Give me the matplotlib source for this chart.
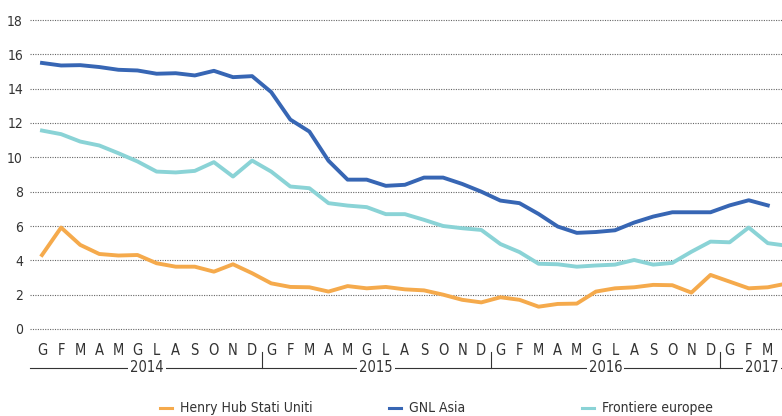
import matplotlib
matplotlib.use("Agg")
import matplotlib.pyplot as plt
from matplotlib.transforms import blended_transform_factory
from matplotlib.lines import Line2D

# ----------------------------
# Data (prezzi del gas, $/MMBtu)
# ----------------------------
months = ["G", "F", "M", "A", "M", "G", "L", "A", "S", "O", "N", "D"]
years = ["2014", "2015", "2016", "2017"]

gnl_asia = [15.5, 15.35, 15.37, 15.26, 15.1, 15.06, 14.87, 14.9, 14.77, 15.04, 14.67, 14.73,
            13.8, 12.2, 11.5, 9.8, 8.7, 8.7, 8.34, 8.4, 8.82, 8.82, 8.45, 8.0,
            7.48, 7.33, 6.7, 5.97, 5.6, 5.65, 5.75, 6.2, 6.55, 6.8, 6.8, 6.8,
            7.2, 7.5, 7.2]

frontiere = [11.56, 11.35, 10.92, 10.69, 10.24, 9.76, 9.17, 9.12, 9.21, 9.72, 8.88, 9.81,
             9.17, 8.3, 8.2, 7.33, 7.19, 7.1, 6.69, 6.69, 6.36, 6.0, 5.87, 5.77,
             4.95, 4.48, 3.8, 3.77, 3.63, 3.7, 3.75, 4.02, 3.75, 3.85, 4.5, 5.09,
             5.05, 5.91, 5.0, 4.85]

henry_hub = [4.31, 5.91, 4.9, 4.37, 4.28, 4.31, 3.83, 3.63, 3.63, 3.34, 3.77, 3.25,
             2.66, 2.45, 2.43, 2.18, 2.5, 2.37, 2.45, 2.31, 2.25, 2.0, 1.7, 1.55,
             1.85, 1.7, 1.3, 1.46, 1.48, 2.18, 2.37, 2.43, 2.57, 2.55, 2.12, 3.15,
             2.76, 2.37, 2.43, 2.65]

y_ticks = [0, 2, 4, 6, 8, 10, 12, 14, 16, 18]

ORANGE = "#f5aa4c"
BLUE = "#3766b4"
CYAN = "#8ad3d6"
TXT = "#333333"

plt.rcParams["font.family"] = ["DejaVu Sans"]
plt.rcParams["font.stretch"] = "condensed"

fig = plt.figure(figsize=(7.82, 4.16), dpi=100)
ax = fig.add_axes([30 / 782, 1 - 329 / 416, 752 / 782, 309 / 416])

# gridlines
for v in y_ticks:
    ax.axhline(v, color="#666666", lw=0.8, ls=(0, (1, 1.2)), clip_on=False, zorder=1)

ax.plot(range(len(henry_hub)), henry_hub, color=ORANGE, lw=2.8, zorder=3)
ax.plot(range(len(frontiere)), frontiere, color=CYAN, lw=2.8, zorder=3)
ax.plot(range(len(gnl_asia)), gnl_asia, color=BLUE, lw=2.8, zorder=4)

ax.set_ylim(0, 18)
ax.set_xlim(-12 / 19.1, 740 / 19.1)
ax.set_yticks(y_ticks)
ax.set_yticklabels([str(v) for v in y_ticks], fontsize=10, color=TXT)
ax.tick_params(axis="y", length=0, pad=5)

month_labels = [months[i % 12] for i in range(len(gnl_asia))]
ax.set_xticks(range(len(month_labels)))
ax.set_xticklabels(month_labels, fontsize=10.5, color=TXT)
ax.tick_params(axis="x", length=0, pad=10)

for s in ax.spines.values():
    s.set_visible(False)

# year axis below the months
tr = blended_transform_factory(ax.transData, fig.transFigure)
y_line = 1 - 368 / 416
ax.plot(ax.get_xlim(), [y_line, y_line], transform=tr, color=TXT, lw=0.8, clip_on=False)
for d in [11.5, 23.5, 35.5]:
    ax.plot([d, d], [1 - 352 / 416, y_line], transform=tr, color=TXT, lw=0.8, clip_on=False)
year_pos = [5.5, 17.5, 29.5, 37.7]
for x, yr in zip(year_pos, years):
    ax.text(x, y_line, yr, transform=tr, ha="center", va="center", fontsize=10.5, color=TXT,
            bbox=dict(facecolor="white", edgecolor="none", pad=1.5))

# legend
leg_y = 1 - 408 / 416
legend_items = [("Henry Hub Stati Uniti", ORANGE, 160), ("GNL Asia", BLUE, 389),
                ("Frontiere europee", CYAN, 582)]
for label, col, px in legend_items:
    fig.add_artist(Line2D([px / 782, (px + 12) / 782], [leg_y, leg_y], color=col, lw=2.2))
    fig.text((px + 20) / 782, leg_y, label, ha="left", va="center", fontsize=10, color=TXT)

fig.savefig("out.png", dpi=100)
